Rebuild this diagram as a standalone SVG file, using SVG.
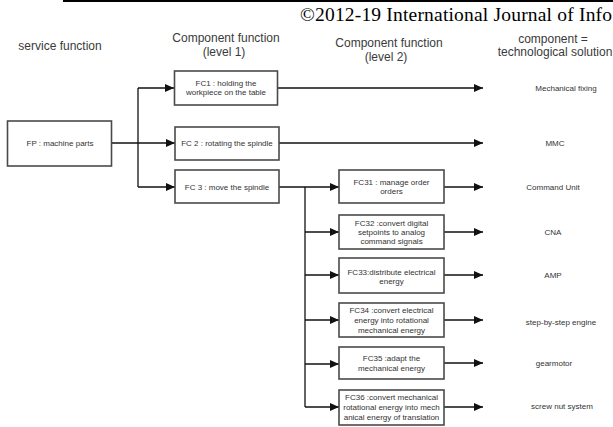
<svg xmlns="http://www.w3.org/2000/svg" width="613" height="427" viewBox="0 0 613 427">
  <style>
    .hdr { font-family: "Liberation Sans", Arial, sans-serif; font-size: 12px; fill: #3a3a3a; text-anchor: middle; }
    .box { fill: #ffffff; stroke: #4a4a4a; stroke-width: 1.6; }
    .lbl { font-family: "Liberation Sans", Arial, sans-serif; font-size: 8px; fill: #333; text-anchor: middle; }
    .wire { fill: none; stroke: #111; stroke-width: 1.3; }
    .arrow { fill: none; stroke: #111; stroke-width: 1.3; marker-end: url(#head); }
  </style>
  <defs>
    <marker id="head" markerUnits="userSpaceOnUse" markerWidth="9" markerHeight="8" refX="9" refY="4" orient="auto">
      <path d="M0,0 L9,4 L0,8 z" fill="#111"/>
    </marker>
  </defs>

  <rect width="613" height="427" fill="#ffffff"/>

  <!-- page header -->
  <line x1="63" y1="1" x2="613" y2="1" stroke="#000" stroke-width="2"/>
  <text x="300" y="21" font-family="Liberation Serif, Times New Roman, serif" font-size="19.5" textLength="312" lengthAdjust="spacing" fill="#000">©2012-19 International Journal of Info</text>

  <!-- column headings -->
  <g id="headings">
    <text class="hdr" x="60" y="50">service function</text>
    <text class="hdr" x="226" y="42">Component function</text>
    <text class="hdr" x="224" y="56">(level 1)</text>
    <text class="hdr" x="389" y="47">Component function</text>
    <text class="hdr" x="386" y="61">(level 2)</text>
    <text class="hdr" x="553" y="43">component =</text>
    <text class="hdr" x="555" y="56">technological solution</text>
  </g>

  <!-- connectors -->
  <g id="connectors">
    <path class="wire" d="M138,88 V187"/>
    <path class="arrow" d="M138,88 H174"/>
    <path class="arrow" d="M111,143 H175"/>
    <path class="arrow" d="M138,187 H175"/>
    <path class="arrow" d="M278,88 H483"/>
    <path class="arrow" d="M279,143 H483"/>
    <path class="arrow" d="M279,187 H339"/>
    <path class="wire" d="M305,187 V407"/>
    <path class="arrow" d="M305,232 H339"/>
    <path class="arrow" d="M305,275 H339"/>
    <path class="arrow" d="M305,320 H339"/>
    <path class="arrow" d="M305,364 H339"/>
    <path class="arrow" d="M305,407 H339"/>
    <path class="arrow" d="M444,187 H483"/>
    <path class="arrow" d="M444,232 H483"/>
    <path class="arrow" d="M444,275 H483"/>
    <path class="arrow" d="M444,320 H483"/>
    <path class="arrow" d="M444,363 H483"/>
    <path class="arrow" d="M444,407 H483"/>
  </g>

  <!-- service function -->
  <g id="fp">
    <rect class="box" x="7.5" y="121" width="104" height="45"/>
    <text class="lbl" x="60" y="146">FP : machine parts</text>
  </g>

  <!-- level 1 component functions -->
  <g id="fc1">
    <rect class="box" x="174.5" y="71" width="103" height="34"/>
    <text class="lbl" x="226" y="86">FC1 : holding the</text>
    <text class="lbl" x="226" y="95">workpiece on the table</text>
  </g>
  <g id="fc2">
    <rect class="box" x="175" y="127" width="104" height="33"/>
    <text class="lbl" x="227" y="146">FC 2 : rotating the spindle</text>
  </g>
  <g id="fc3">
    <rect class="box" x="175" y="170" width="104" height="33"/>
    <text class="lbl" x="227" y="190">FC 3 : move the spindle</text>
  </g>

  <!-- level 2 component functions -->
  <g id="fc31">
    <rect class="box" x="339" y="170" width="105" height="33"/>
    <text class="lbl" x="391.5" y="185">FC31 : manage order</text>
    <text class="lbl" x="391.5" y="194">orders</text>
  </g>
  <g id="fc32">
    <rect class="box" x="339" y="215" width="105" height="34"/>
    <text class="lbl" x="391.5" y="226">FC32 :convert digital</text>
    <text class="lbl" x="391.5" y="235">setpoints to analog</text>
    <text class="lbl" x="391.5" y="243.5">command signals</text>
  </g>
  <g id="fc33">
    <rect class="box" x="339" y="258" width="105" height="35"/>
    <text class="lbl" x="391.5" y="275">FC33:distribute electrical</text>
    <text class="lbl" x="391.5" y="284">energy</text>
  </g>
  <g id="fc34">
    <rect class="box" x="339" y="303" width="105" height="34"/>
    <text class="lbl" x="391.5" y="313">FC34 :convert electrical</text>
    <text class="lbl" x="391.5" y="323">energy into rotational</text>
    <text class="lbl" x="391.5" y="333">mechanical energy</text>
  </g>
  <g id="fc35">
    <rect class="box" x="339" y="347" width="105" height="32"/>
    <text class="lbl" x="391.5" y="361">FC35 :adapt the</text>
    <text class="lbl" x="391.5" y="371">mechanical energy</text>
  </g>
  <g id="fc36">
    <rect class="box" x="339" y="390" width="105" height="35"/>
    <text class="lbl" x="391.5" y="400">FC36 :convert mechanical</text>
    <text class="lbl" x="391.5" y="410">rotational energy into mech</text>
    <text class="lbl" x="391.5" y="420">anical energy of translation</text>
  </g>

  <!-- technological solutions -->
  <g id="solutions">
    <text class="lbl" x="566" y="91">Mechanical fixing</text>
    <text class="lbl" x="555" y="146">MMC</text>
    <text class="lbl" x="553" y="190">Command Unit</text>
    <text class="lbl" x="553" y="235">CNA</text>
    <text class="lbl" x="553" y="278">AMP</text>
    <text class="lbl" x="561" y="325">step-by-step engine</text>
    <text class="lbl" x="554" y="366">gearmotor</text>
    <text class="lbl" x="562" y="409">screw nut system</text>
  </g>
</svg>
